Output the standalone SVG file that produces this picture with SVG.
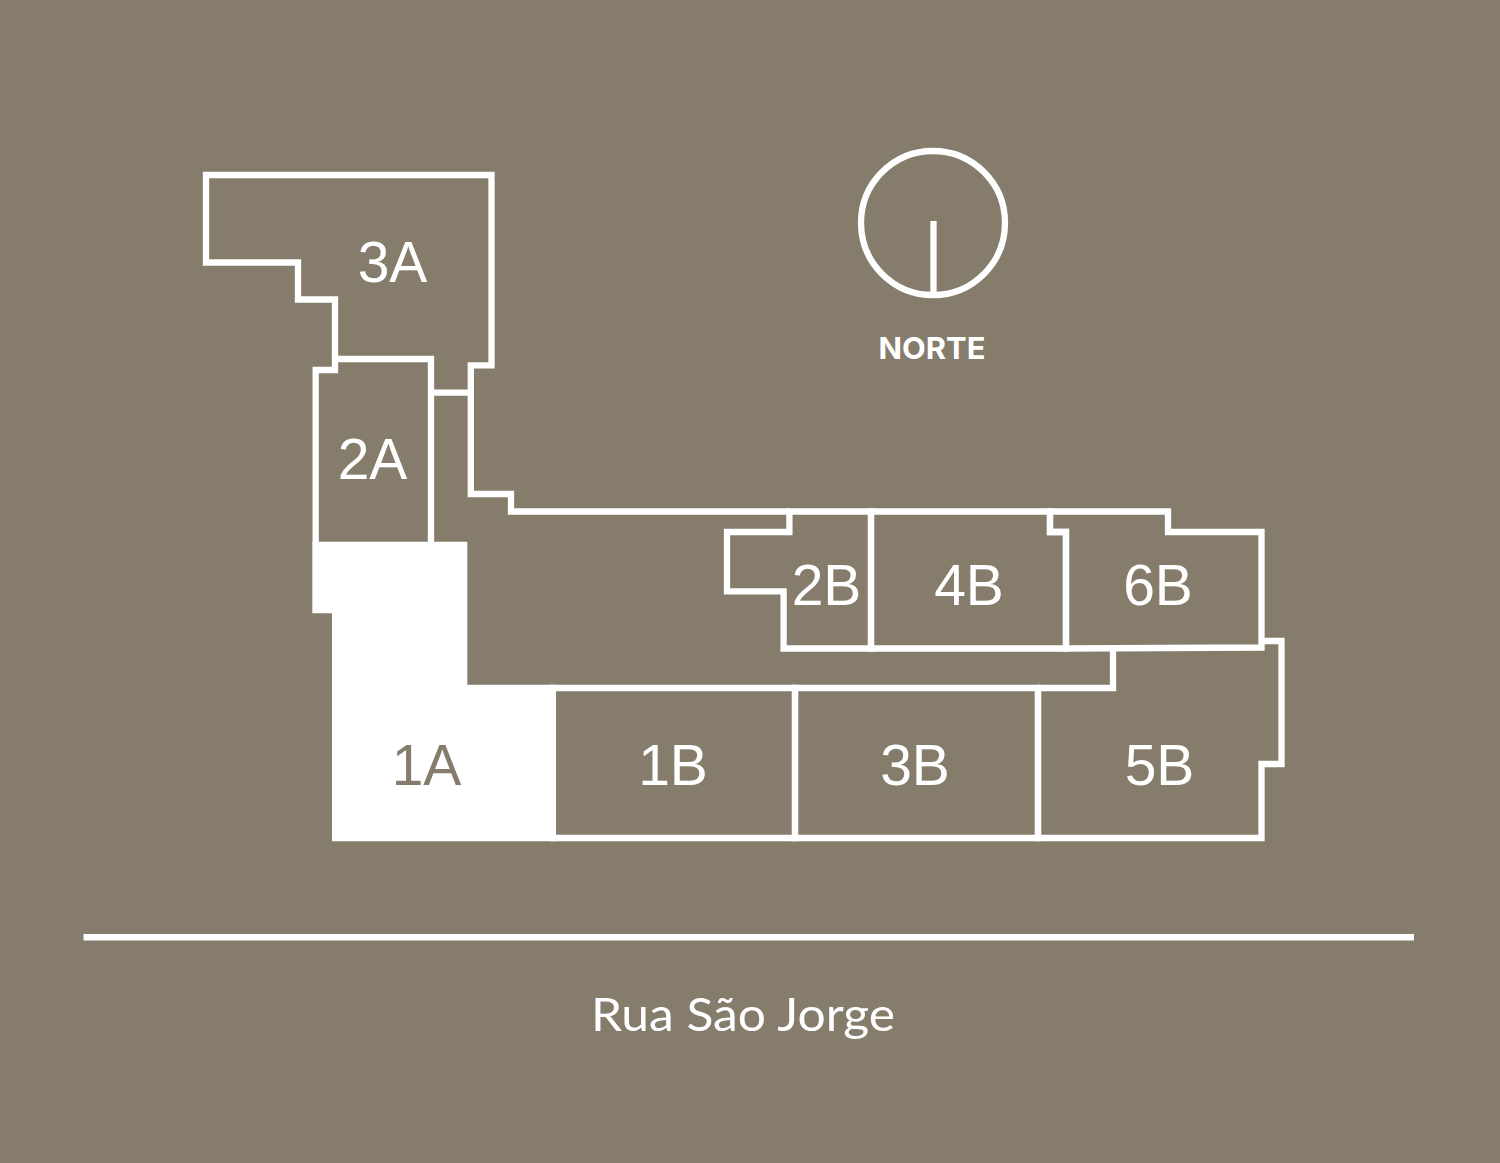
<svg xmlns="http://www.w3.org/2000/svg" width="1500" height="1163" viewBox="0 0 1500 1163">
<style>
.o{fill:none;stroke:#fff;stroke-width:6.3;stroke-miterlimit:10}
.l{font-family:"Liberation Sans",Arial,sans-serif;font-size:57px;fill:#fff;text-anchor:middle}
</style>
<rect id="background" width="1500" height="1163" fill="#867C6C"/>
<g id="unit-3A"><path class="o" d="M335,359V299.5H298V262.5H206V175H491.5V365.3H470.8V392.7"/><text class="l" x="392.500" y="282">3A</text></g>
<g id="unit-2A"><path class="o" d="M431,542V359H335V370H315.7V542"/><text class="l" x="372.500" y="478.500">2A</text></g>
<g id="corridor"><path class="o" d="M431,392.7H470.8V494H511V511.500H789.4"/></g>
<g id="unit-1A"><polygon fill="#fff" points="312.3,541.7 467.3,541.7 467.3,684.7 556,684.7 556,841.3 332,841.3 332,613.3 312.3,613.3"/><text class="l" x="426.500" y="785" style="fill:#867C6C">1A</text></g>
<g id="unit-1B"><path class="o" d="M550,688H795V838H550"/><text class="l" x="673" y="785">1B</text></g>
<g id="unit-3B"><path class="o" d="M795,688H1038V838H795Z"/><text class="l" x="915" y="785">3B</text></g>
<g id="unit-5B"><path class="o" d="M1038,688H1113V648.500M1261.500,641H1281.500V764H1261.500V838H1038V688"/><text class="l" x="1159.500" y="785">5B</text></g>
<g id="unit-2B"><path class="o" d="M871,511.500H789.400V532H727V591.300H783.600V648.500H871Z"/><text class="l" x="826.500" y="605">2B</text></g>
<g id="unit-4B"><path class="o" d="M871,511.500H1050V532H1066V648.500H871Z"/><text class="l" x="969" y="605">4B</text></g>
<g id="unit-6B"><path class="o" d="M1050,511.500H1168V532H1261.500V647.500L1066,648.500V532H1050Z"/><text class="l" x="1158" y="605">6B</text></g>
<g id="north"><circle class="o" cx="933" cy="223" r="72"/><path class="o" d="M933.500,221V295"/><text x="932" y="359" text-anchor="middle" style="font-family:Inter,'Liberation Sans',sans-serif;font-size:30px;font-weight:700;fill:#fff" textLength="107" lengthAdjust="spacingAndGlyphs">NORTE</text></g>
<g id="street"><rect x="83.500" y="934" width="1330.500" height="6.500" fill="#fff"/><text x="743" y="1031" text-anchor="middle" style="font-family:Lato,'Liberation Sans',sans-serif;font-size:47px;font-weight:400;fill:#fff" textLength="304" lengthAdjust="spacingAndGlyphs">Rua São Jorge</text></g>
</svg>
